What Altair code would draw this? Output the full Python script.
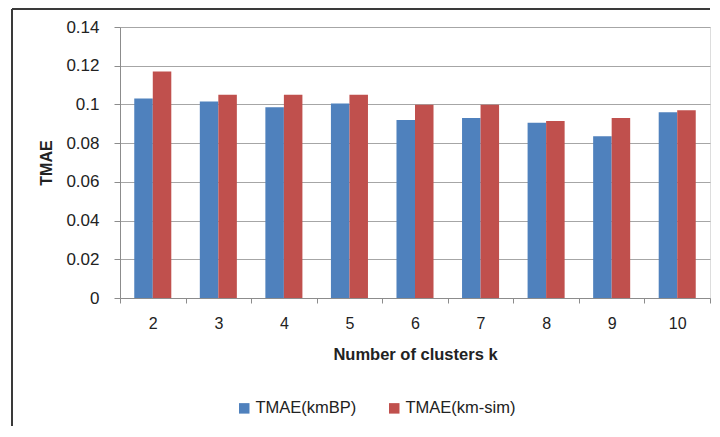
import altair as alt
import pandas as pd

k_values = ["2", "3", "4", "5", "6", "7", "8", "9", "10"]
tmae_kmbp = [0.103, 0.1015, 0.0985, 0.1005, 0.092, 0.093, 0.0905, 0.0835, 0.096]
tmae_kmsim = [0.117, 0.105, 0.105, 0.105, 0.0998, 0.0998, 0.0915, 0.093, 0.097]
series_names = ["TMAE(kmBP)", "TMAE(km-sim)"]
series_colors = ["#4F81BD", "#C0504D"]
y_ticks = [0, 0.02, 0.04, 0.06, 0.08, 0.1, 0.12, 0.14]

rows = []
for i, k in enumerate(k_values):
    rows.append({"k": k, "series": series_names[0], "value": tmae_kmbp[i]})
    rows.append({"k": k, "series": series_names[1], "value": tmae_kmsim[i]})
df = pd.DataFrame(rows)

FONT = "Liberation Sans"
TXT = "#222222"

bars = alt.Chart(df).mark_bar().encode(
    x=alt.X(
        "k:N",
        sort=k_values,
        scale=alt.Scale(paddingInner=0, paddingOuter=0),
        axis=alt.Axis(
            title="Number of clusters k",
            labelAngle=0,
            tickBand="extent",
            grid=False,
            domainColor="#8c8c8c",
            tickColor="#8c8c8c",
            tickSize=5,
            labelFontSize=16,
            labelPadding=12,
            labelColor=TXT,
            labelFont=FONT,
            titleFont=FONT,
            titleFontSize=16.5,
            titleFontWeight="bold",
            titleColor=TXT,
            titlePadding=15,
        ),
    ),
    xOffset=alt.XOffset(
        "series:N",
        sort=series_names,
        scale=alt.Scale(paddingInner=0, paddingOuter=0.77),
    ),
    y=alt.Y(
        "value:Q",
        scale=alt.Scale(domain=[0, 0.14], nice=False),
        axis=alt.Axis(
            title="TMAE",
            values=y_ticks,
            format=".2~f",
            grid=True,
            gridColor="#a6a6a6",
            gridWidth=1,
            domainColor="#8c8c8c",
            tickColor="#8c8c8c",
            tickSize=6,
            labelFontSize=17,
            labelPadding=15,
            labelColor=TXT,
            labelFont=FONT,
            titleFont=FONT,
            titleFontSize=16,
            titleFontWeight="bold",
            titleColor=TXT,
            titlePadding=11,
        ),
    ),
    color=alt.Color(
        "series:N",
        sort=series_names,
        scale=alt.Scale(domain=series_names, range=series_colors),
        legend=alt.Legend(
            title=None,
            orient="none",
            legendX=116,
            legendY=373,
            direction="horizontal",
            symbolType="square",
            symbolSize=110,
            symbolStrokeWidth=0,
            labelFontSize=16.5,
            labelFont=FONT,
            labelColor=TXT,
            labelOffset=3,
            columnPadding=29,
        ),
    ),
)

frame_data = alt.Data(values=[{"a": 1}])
left_border = alt.Chart(frame_data).mark_rule(color="#3a3a3a", strokeWidth=2).encode(
    x=alt.value(-108), y=alt.value(-18), y2=alt.value(399)
)
top_border = alt.Chart(frame_data).mark_rule(color="#3a3a3a", strokeWidth=2).encode(
    x=alt.value(-108), x2=alt.value(590), y=alt.value(-18)
)

chart = alt.layer(bars, left_border, top_border).properties(
    width=590,
    height=271,
    padding={"left": 3, "top": 0, "right": 0, "bottom": 0},
).configure_view(stroke=None).configure(background="white")

chart.save("out.html", embed_options={"renderer": "svg", "actions": False})
